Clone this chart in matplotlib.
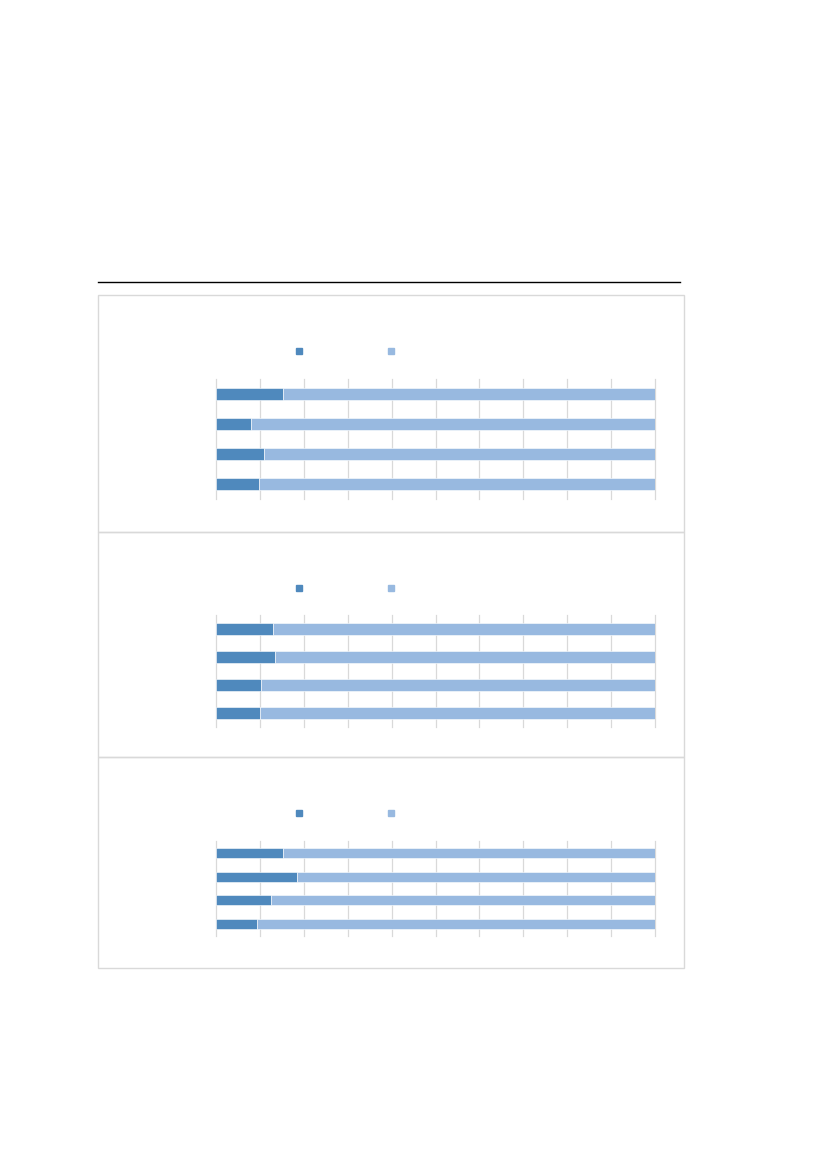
import matplotlib.pyplot as plt
from matplotlib.lines import Line2D
from matplotlib.patches import Rectangle

# share of each row, in percent (dark part); the rest is the light part
rows = ['a', 'b', 'c', 'd']
panel1_dark = [15.3, 8.0, 10.9, 9.8]
panel2_dark = [13.0, 13.4, 10.3, 10.0]
panel3_dark = [15.3, 18.5, 12.6, 9.4]
panels = [panel1_dark, panel2_dark, panel3_dark]

dark = '#4f89bd'
light = '#98b9e0'
grid = '#d9d9d9'

W, H = 826, 1170
fig = plt.figure(figsize=(W / 100, H / 100), dpi=100)


def px_axes(x0, y0, x1, y1):
    # pixel box (top-left origin) -> figure axes
    return fig.add_axes([x0 / W, 1 - y1 / H, (x1 - x0) / W, (y1 - y0) / H])


# black rule above the chart block
fig.add_artist(Line2D([98 / W, 680 / W], [1 - 282 / H] * 2, color='black', lw=1.0))

# frames around the three panels
frames = [(295, 532), (532, 757), (757, 968)]
for top, bottom in frames:
    fig.add_artist(Rectangle((98 / W, 1 - bottom / H), (684 - 98) / W, (bottom - top) / H,
                             fill=False, edgecolor=grid, lw=1.0))

plot_boxes = [(379, 499), (615, 727), (841, 936)]
legend_y = [352, 589, 814]

for vals, (y0, y1), ly in zip(panels, plot_boxes, legend_y):
    ax = px_axes(216, y0, 655, y1)
    rest = [100 - v for v in vals]
    pos = list(range(len(rows)))
    ax.barh(pos, vals, height=0.42, color=dark, edgecolor='white', lw=0.4, zorder=3)
    ax.barh(pos, rest, left=vals, height=0.42, color=light, edgecolor='white', lw=0.4, zorder=3)
    ax.set_xlim(0, 100)
    ax.set_ylim(len(rows) - 0.5, -0.5)
    ax.set_xticks(range(0, 101, 10))
    ax.set_yticks([])
    ax.grid(axis='x', color=grid, lw=0.9, zorder=0)
    for gl in ax.get_xgridlines():
        gl.set_clip_on(False)
    ax.tick_params(axis='x', length=0, labelbottom=False)
    for s in ax.spines.values():
        s.set_visible(False)
    ax.set_facecolor('none')

    handles = [Line2D([], [], marker='s', ls='', color=dark, markersize=4.5),
               Line2D([], [], marker='s', ls='', color=light, markersize=4.5)]
    fig.legend(handles, ['', ''], ncol=2, loc='center',
               bbox_to_anchor=(345 / W, 1 - ly / H), frameon=False,
               fontsize=8, handlelength=0.8, handletextpad=0.0,
               columnspacing=7.5, borderpad=0)

fig.savefig('out.png', dpi=100)
